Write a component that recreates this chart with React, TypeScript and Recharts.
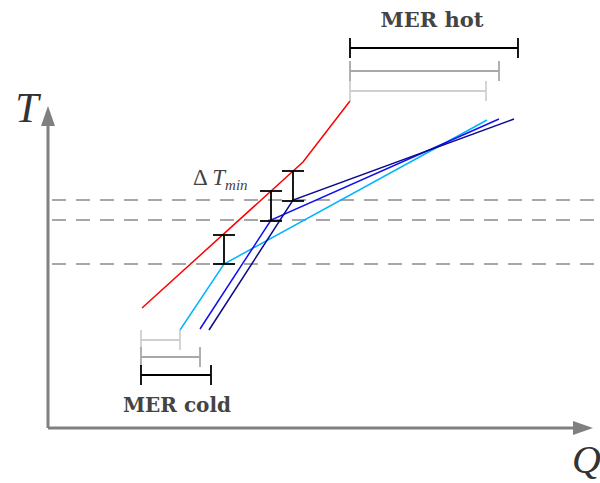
import { ComposedChart, Line, XAxis, YAxis, ReferenceLine, ReferenceDot } from "recharts";

// Composite curves, Q = heat load, T = temperature (arbitrary units)
const hotCurve = [
  { Q: 94, T: 120 },
  { Q: 255, T: 266 },
  { Q: 302, T: 327 },
];
const coldCurveLight = [
  { Q: 132, T: 98 },
  { Q: 176, T: 164 },
  { Q: 439, T: 308 },
];
const coldCurveBlue = [
  { Q: 152, T: 99 },
  { Q: 223, T: 208 },
  { Q: 451, T: 309 },
];
const coldCurveNavy = [
  { Q: 161, T: 98 },
  { Q: 245, T: 228 },
  { Q: 466, T: 309 },
];

// pinch temperatures (dashed lines)
const pinchT = [228, 208, 164];

// delta T min brackets
const dtQ = [176, 223, 245];
const dtLow = [164, 207, 227];
const dtHigh = [193, 237, 257];

// MER brackets
const merHotLeft = 302;
const merHotRight = [438, 451, 470];
const merHotT = [337, 357, 380];
const merColdLeft = 93;
const merColdRight = [132, 152, 163];
const merColdT = [88, 71, 53];

const axisEndQ = 545;
const axisEndT = 322;

const merColors = ["#d0d0d0", "#a8a8a8", "#000000"];
const SERIF = "'Liberation Serif', 'DejaVu Serif', serif";
const BOLD_SERIF = "'DejaVu Serif', 'Liberation Serif', serif";
const ARROW = 20;
const TICK = 10;
const CAP = 11;

const ArrowUp = ({ cx, cy }: any) => (
  <polygon points={`${cx},${cy} ${cx - 7},${cy + ARROW} ${cx + 7},${cy + ARROW}`} fill="#808080" />
);
const ArrowRight = ({ cx, cy }: any) => (
  <polygon points={`${cx},${cy} ${cx - ARROW},${cy - 7} ${cx - ARROW},${cy + 7}`} fill="#808080" />
);

const textShape = (content: React.ReactNode, style: any) => (p: any) => (
  <text x={p.cx} y={p.cy} {...style}>
    {content}
  </text>
);

export default function App() {
  return (
    <div style={{ position: "absolute", left: 0, top: 0, background: "#fff" }}>
      <ComposedChart width={600} height={483} margin={{ top: 0, right: 0, bottom: 0, left: 0 }}>
        <XAxis dataKey="Q" type="number" domain={[-48, 552]} hide allowDataOverflow />
        <YAxis dataKey="T" type="number" domain={[-55, 428]} hide allowDataOverflow />

        {/* pinch levels */}
        {pinchT.map((t) => (
          <ReferenceLine
            key={"p" + t}
            segment={[{ x: 4, y: t }, { x: 552, y: t }]}
            stroke="#8a8a8a"
            strokeWidth={1.5}
            strokeDasharray="14 10"
          />
        ))}

        {/* axes */}
        <ReferenceLine segment={[{ x: 0, y: 0 }, { x: 0, y: axisEndT - 19 }]} stroke="#808080" strokeWidth={3} />
        <ReferenceLine segment={[{ x: 0, y: 0 }, { x: axisEndQ - 19, y: 0 }]} stroke="#808080" strokeWidth={3} />
        <ReferenceDot x={0} y={axisEndT} shape={ArrowUp} />
        <ReferenceDot x={axisEndQ} y={0} shape={ArrowRight} />

        <Line data={hotCurve} dataKey="T" type="linear" stroke="#ff0000" strokeWidth={1.5} dot={false} activeDot={false} isAnimationActive={false} />
        <Line data={coldCurveLight} dataKey="T" type="linear" stroke="#00b4ff" strokeWidth={1.5} dot={false} activeDot={false} isAnimationActive={false} />
        <Line data={coldCurveBlue} dataKey="T" type="linear" stroke="#1010ee" strokeWidth={1.5} dot={false} activeDot={false} isAnimationActive={false} />
        <Line data={coldCurveNavy} dataKey="T" type="linear" stroke="#0a0a90" strokeWidth={1.5} dot={false} activeDot={false} isAnimationActive={false} />

        {/* delta T min brackets */}
        {dtQ.map((q, i) => [
          <ReferenceLine key={"dv" + i} segment={[{ x: q, y: dtLow[i] }, { x: q, y: dtHigh[i] }]} stroke="#000" strokeWidth={1.8} />,
          <ReferenceLine key={"dl" + i} segment={[{ x: q - CAP, y: dtLow[i] }, { x: q + CAP, y: dtLow[i] }]} stroke="#000" strokeWidth={1.8} />,
          <ReferenceLine key={"dh" + i} segment={[{ x: q - CAP, y: dtHigh[i] }, { x: q + CAP, y: dtHigh[i] }]} stroke="#000" strokeWidth={1.8} />,
        ])}

        {/* MER hot */}
        {merHotRight.map((r, i) => [
          <ReferenceLine key={"hh" + i} segment={[{ x: merHotLeft, y: merHotT[i] }, { x: r, y: merHotT[i] }]} stroke={merColors[i]} strokeWidth={1.8} />,
          <ReferenceLine key={"hl" + i} segment={[{ x: merHotLeft, y: merHotT[i] - TICK }, { x: merHotLeft, y: merHotT[i] + TICK }]} stroke={merColors[i]} strokeWidth={1.8} />,
          <ReferenceLine key={"hr" + i} segment={[{ x: r, y: merHotT[i] - TICK }, { x: r, y: merHotT[i] + TICK }]} stroke={merColors[i]} strokeWidth={1.8} />,
        ])}

        {/* MER cold */}
        {merColdRight.map((r, i) => [
          <ReferenceLine key={"ch" + i} segment={[{ x: merColdLeft, y: merColdT[i] }, { x: r, y: merColdT[i] }]} stroke={merColors[i]} strokeWidth={1.8} />,
          <ReferenceLine key={"cl" + i} segment={[{ x: merColdLeft, y: merColdT[i] - TICK }, { x: merColdLeft, y: merColdT[i] + TICK }]} stroke={merColors[i]} strokeWidth={1.8} />,
          <ReferenceLine key={"cr" + i} segment={[{ x: r, y: merColdT[i] - TICK }, { x: r, y: merColdT[i] + TICK }]} stroke={merColors[i]} strokeWidth={1.8} />,
        ])}

        {/* labels */}
        <ReferenceDot
          x={-21}
          y={306}
          shape={textShape("T", { fontFamily: SERIF, fontStyle: "italic", fontSize: 42, fill: "#333", textAnchor: "middle" })}
        />
        <ReferenceDot
          x={524}
          y={-45}
          shape={textShape("Q", { fontFamily: SERIF, fontStyle: "italic", fontSize: 40, fill: "#333", textAnchor: "start" })}
        />
        <ReferenceDot
          x={384}
          y={401}
          shape={textShape("MER hot", { fontFamily: BOLD_SERIF, fontWeight: "bold", fontSize: 21, fill: "#444", textAnchor: "middle" })}
        />
        <ReferenceDot
          x={129}
          y={16}
          shape={textShape("MER cold", { fontFamily: BOLD_SERIF, fontWeight: "bold", fontSize: 20, fill: "#444", textAnchor: "middle" })}
        />
        <ReferenceDot
          x={145}
          y={243}
          shape={textShape(
            [
              <tspan key="d">Δ </tspan>,
              <tspan key="t" fontStyle="italic">T</tspan>,
              <tspan key="m" fontStyle="italic" fontSize={15} dy={5}>min</tspan>,
            ],
            { fontFamily: SERIF, fontSize: 23, fill: "#444", textAnchor: "start" }
          )}
        />
      </ComposedChart>
    </div>
  );
}
